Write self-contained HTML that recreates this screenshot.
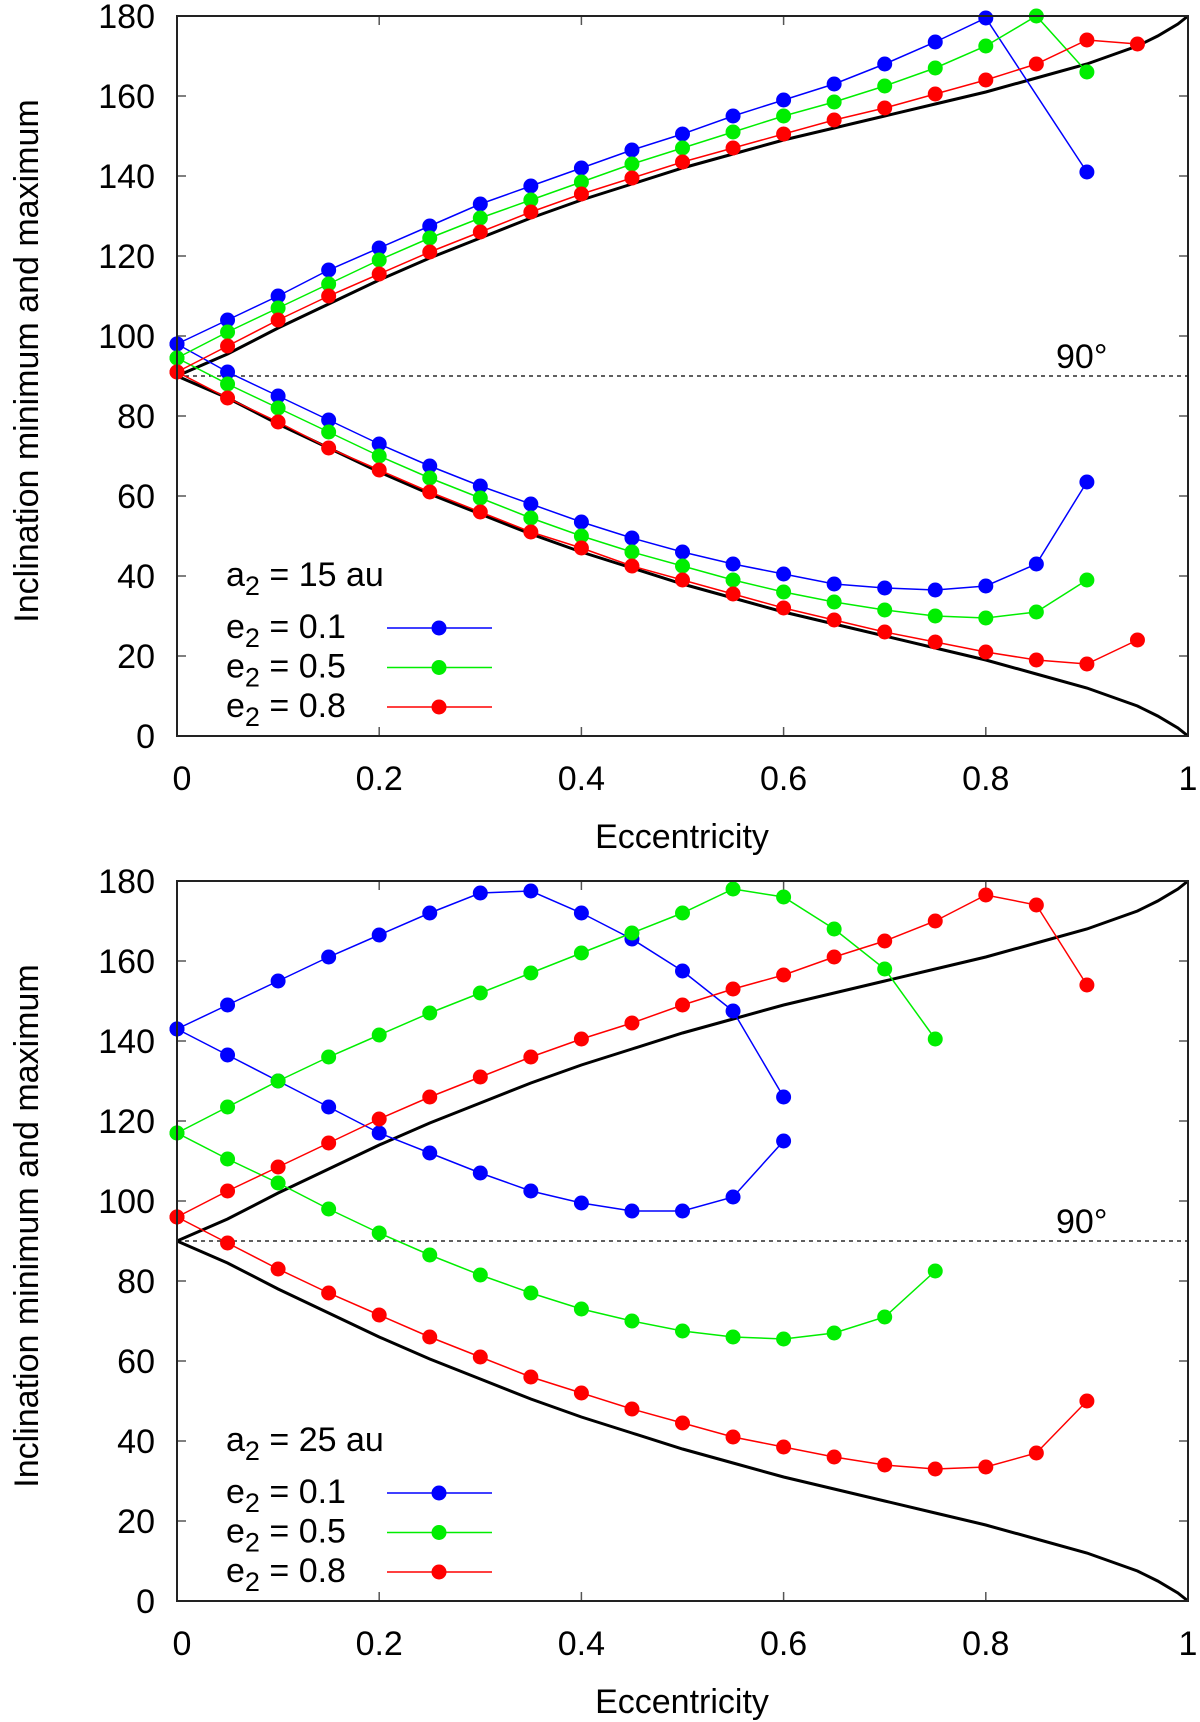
<!DOCTYPE html>
<html><head><meta charset="utf-8"><style>
html,body{margin:0;padding:0;background:#fff;}
svg{display:block;font-family:"Liberation Sans",sans-serif;}
</style></head><body>
<svg id="chart" width="1200" height="1722" viewBox="0 0 1200 1722" xmlns="http://www.w3.org/2000/svg"></svg>
<script>
// ---------- data ----------
const xTicks = [0, 0.2, 0.4, 0.6, 0.8, 1];
const xTickLabels = ["0", "0.2", "0.4", "0.6", "0.8", "1"];
const yTicks = [0, 20, 40, 60, 80, 100, 120, 140, 160, 180];
const curveE = [0, 0.05, 0.1, 0.15, 0.2, 0.25, 0.3, 0.35, 0.4, 0.45, 0.5, 0.55, 0.6, 0.65, 0.7, 0.75, 0.8, 0.85, 0.9, 0.95, 0.97, 0.99, 1];
const curveMin = [90, 84.5, 78, 72, 66, 60.5, 55.5, 50.5, 46, 42, 38, 34.5, 31, 28, 25, 22, 19, 15.5, 12, 7.5, 5, 2, 0];

const topBlueMaxE = [0, .05, .1, .15, .2, .25, .3, .35, .4, .45, .5, .55, .6, .65, .7, .75, .8, .9];
const topBlueMax = [98, 104, 110, 116.5, 122, 127.5, 133, 137.5, 142, 146.5, 150.5, 155, 159, 163, 168, 173.5, 179.5, 141];
const topBlueMinE = [0, .05, .1, .15, .2, .25, .3, .35, .4, .45, .5, .55, .6, .65, .7, .75, .8, .85, .9];
const topBlueMin = [98, 91, 85, 79, 73, 67.5, 62.5, 58, 53.5, 49.5, 46, 43, 40.5, 38, 37, 36.5, 37.5, 43, 63.5];
const topGreenE = [0, .05, .1, .15, .2, .25, .3, .35, .4, .45, .5, .55, .6, .65, .7, .75, .8, .85, .9];
const topGreenMax = [94.5, 101, 107, 113, 119, 124.5, 129.5, 134, 138.5, 143, 147, 151, 155, 158.5, 162.5, 167, 172.5, 180, 166];
const topGreenMin = [94.5, 88, 82, 76, 70, 64.5, 59.5, 54.5, 50, 46, 42.5, 39, 36, 33.5, 31.5, 30, 29.5, 31, 39];
const topRedE = [0, .05, .1, .15, .2, .25, .3, .35, .4, .45, .5, .55, .6, .65, .7, .75, .8, .85, .9, .95];
const topRedMax = [91, 97.5, 104, 110, 115.5, 121, 126, 131, 135.5, 139.5, 143.5, 147, 150.5, 154, 157, 160.5, 164, 168, 174, 173];
const topRedMin = [91, 84.5, 78.5, 72, 66.5, 61, 56, 51, 47, 42.5, 39, 35.5, 32, 29, 26, 23.5, 21, 19, 18, 24];

const botBlueE = [0, .05, .1, .15, .2, .25, .3, .35, .4, .45, .5, .55, .6];
const botBlueMax = [143, 149, 155, 161, 166.5, 172, 177, 177.5, 172, 165.5, 157.5, 147.5, 126];
const botBlueMin = [143, 136.5, 130, 123.5, 117, 112, 107, 102.5, 99.5, 97.5, 97.5, 101, 115];
const botGreenE = [0, .05, .1, .15, .2, .25, .3, .35, .4, .45, .5, .55, .6, .65, .7, .75];
const botGreenMax = [117, 123.5, 130, 136, 141.5, 147, 152, 157, 162, 167, 172, 178, 176, 168, 158, 140.5];
const botGreenMin = [117, 110.5, 104.5, 98, 92, 86.5, 81.5, 77, 73, 70, 67.5, 66, 65.5, 67, 71, 82.5];
const botRedE = [0, .05, .1, .15, .2, .25, .3, .35, .4, .45, .5, .55, .6, .65, .7, .75, .8, .85, .9];
const botRedMax = [96, 102.5, 108.5, 114.5, 120.5, 126, 131, 136, 140.5, 144.5, 149, 153, 156.5, 161, 165, 170, 176.5, 174, 154];
const botRedMin = [96, 89.5, 83, 77, 71.5, 66, 61, 56, 52, 48, 44.5, 41, 38.5, 36, 34, 33, 33.5, 37, 50];

const legendLabels = ["0.1", "0.5", "0.8"];
const colors = ["#0000ff", "#00ee00", "#ff0000"];

// ---------- drawing ----------
const NS = "http://www.w3.org/2000/svg";
const svg = document.getElementById("chart");
function mk(tag, attrs, parent) {
  const e = document.createElementNS(NS, tag);
  for (const k in attrs) e.setAttribute(k, attrs[k]);
  (parent || svg).appendChild(e);
  return e;
}
const L = 177, R = 1188, FS = 34;
function drawPanel(top, name, a2, series) {
  const bottom = top + 720;
  const g = mk("g", {});
  
  
  const xs = v => L + v * (R - L);
  const ys = v => bottom - v / 180 * (bottom - top);
  yTicks.forEach(t => {
    const y = ys(t);
    mk("line", {x1: L, x2: L + 9, y1: y, y2: y, stroke: "#555", "stroke-width": 1.5}, g);
    mk("line", {x1: R - 9, x2: R, y1: y, y2: y, stroke: "#555", "stroke-width": 1.5}, g);
    const tx = mk("text", {x: 155, y: y + 12, "text-anchor": "end", "font-size": FS}, g);
    tx.textContent = t;
    
    
  });
  xTicks.forEach((t, i) => {
    const x = xs(t);
    mk("line", {x1: x, x2: x, y1: bottom, y2: bottom - 9, stroke: "#555", "stroke-width": 1.5}, g);
    mk("line", {x1: x, x2: x, y1: top, y2: top + 9, stroke: "#555", "stroke-width": 1.5}, g);
    const tx = mk("text", {x: i === 0 ? x + 5 : x, y: bottom + 54, "text-anchor": "middle", "font-size": FS}, g);
    tx.textContent = xTickLabels[i];
    
    
  });
  const dl = mk("line", {x1: L, x2: R, y1: ys(90), y2: ys(90), stroke: "#000", "stroke-width": 1.2, "stroke-dasharray": "4,4"}, g);
  
  
  const nt = mk("text", {x: 1056, y: ys(90) - 8, "font-size": FS}, g);
  nt.textContent = "90°";
  
  
  const lo = curveE.map((e, i) => xs(e) + "," + ys(curveMin[i])).join(" ");
  const hi = curveE.map((e, i) => xs(e) + "," + ys(180 - curveMin[i])).join(" ");
  const c1 = mk("polyline", {points: lo, fill: "none", stroke: "#000", "stroke-width": 3}, g);
  
  
  const c2 = mk("polyline", {points: hi, fill: "none", stroke: "#000", "stroke-width": 3}, g);
  
  
  series.forEach((s, si) => {
    [[s.maxE, s.max], [s.minE, s.min]].forEach(([E, V], k) => {
      const pl = mk("polyline", {points: E.map((e, i) => xs(e) + "," + ys(V[i])).join(" "), fill: "none", stroke: colors[si], "stroke-width": 1.5}, g);
      
      
      E.forEach((e, i) => {
        const c = mk("circle", {cx: xs(e), cy: ys(V[i]), r: 7.5, fill: colors[si]}, g);
        
        
      });
    });
  });
  const fr = mk("rect", {x: L, y: top, width: R - L, height: 720, fill: "none", stroke: "#222", "stroke-width": 2}, g);
  
  
  const at = mk("text", {x: 226, y: top + 570, "font-size": FS}, g);
  at.innerHTML = 'a<tspan font-size="27" dy="9">2</tspan><tspan dy="-9"> = ' + a2 + ' au</tspan>';
  
  
  legendLabels.forEach((lab, i) => {
    const by = top + 622 + i * 39.5;
    const t = mk("text", {x: 226, y: by, "font-size": FS}, g);
    t.innerHTML = 'e<tspan font-size="27" dy="9">2</tspan><tspan dy="-9"> = ' + lab + '</tspan>';
    
    
    const ly = by - 10;
    mk("line", {x1: 387, x2: 492, y1: ly, y2: ly, stroke: colors[i], "stroke-width": 1.5}, g);
    mk("circle", {cx: 439, cy: ly, r: 7.5, fill: colors[i]}, g);
  });
  const xt = mk("text", {x: 682, y: bottom + 112, "text-anchor": "middle", "font-size": FS}, g);
  xt.textContent = "Eccentricity";
  
  
  const yc = top + 345;
  const yt = mk("text", {x: 0, y: 0, "text-anchor": "middle", "font-size": FS, transform: "translate(38," + yc + ") rotate(-90)"}, g);
  yt.textContent = "Inclination minimum and maximum";
  
  
}
drawPanel(16, "top-panel", 15, [
  {maxE: topBlueMaxE, max: topBlueMax, minE: topBlueMinE, min: topBlueMin},
  {maxE: topGreenE, max: topGreenMax, minE: topGreenE, min: topGreenMin},
  {maxE: topRedE, max: topRedMax, minE: topRedE, min: topRedMin}
]);
drawPanel(881, "bottom-panel", 25, [
  {maxE: botBlueE, max: botBlueMax, minE: botBlueE, min: botBlueMin},
  {maxE: botGreenE, max: botGreenMax, minE: botGreenE, min: botGreenMin},
  {maxE: botRedE, max: botRedMax, minE: botRedE, min: botRedMin}
]);
</script>
</body></html>
